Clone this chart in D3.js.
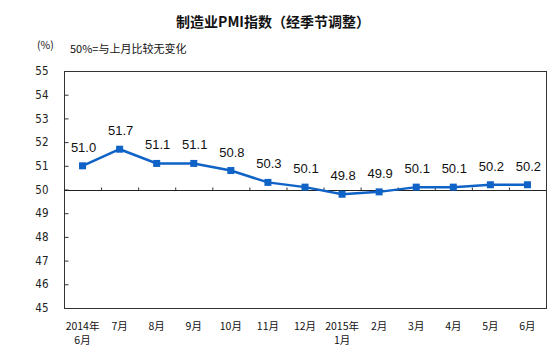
<!DOCTYPE html>
<html>
<head>
<meta charset="utf-8">
<script src="https://cdn.jsdelivr.net/npm/d3@7"></script>
<style>
  body { margin: 0; background: #fff; }
  svg { display: block; }
</style>
</head>
<body>
<svg width="553" height="364"></svg>
<script>
// months, two-line labels split on "|"
var months = ["2014年|6月", "7月", "8月", "9月", "10月", "11月", "12月",
              "2015年|1月", "2月", "3月", "4月", "5月", "6月"];
var pmi = [51.0, 51.7, 51.1, 51.1, 50.8, 50.3, 50.1, 49.8, 49.9, 50.1, 50.1, 50.2, 50.2];
var yTicks = [45, 46, 47, 48, 49, 50, 51, 52, 53, 54, 55];

var blue = "#0f62c6";
var plotLeft = 64, plotRight = 546, plotTop = 71, plotBottom = 308;

var svg = d3.select("svg");

var x = d3.scaleBand().domain(months).range([plotLeft, plotRight]);
var xb = d3.scaleLinear().domain([0, months.length]).range([plotLeft, plotRight]);
var y = d3.scaleLinear().domain([45, 55]).range([plotBottom, plotTop]);

// title and notes
svg.append("text")
  .attr("x", 273).attr("y", 27)
  .attr("text-anchor", "middle")
  .attr("font-family", "Noto Sans CJK SC")
  .attr("font-weight", "bold")
  .attr("font-size", 14)
  .attr("fill", "#111")
  .text("制造业PMI指数（经季节调整）");

svg.append("text")
  .attr("x", 37).attr("y", 49)
  .attr("font-family", "Noto Sans CJK SC")
  .attr("font-size", 10.5)
  .attr("fill", "#111")
  .text("(%)");

svg.append("text")
  .attr("x", 70).attr("y", 53)
  .attr("font-family", "Noto Sans CJK SC")
  .attr("font-size", 11)
  .attr("fill", "#111")
  .text("50%=与上月比较无变化");

// frame
svg.append("rect")
  .attr("x", plotLeft + 0.5).attr("y", plotTop + 0.5)
  .attr("width", plotRight - plotLeft).attr("height", plotBottom - plotTop)
  .attr("fill", "none").attr("stroke", "#333").attr("stroke-width", 1);

// y axis, inward ticks
var yAxis = svg.append("g")
  .attr("transform", "translate(" + (plotLeft + 0.5) + ",0)")
  .call(d3.axisLeft(y).tickValues(yTicks).tickSize(-4).tickPadding(16).tickFormat(d3.format("d")));
yAxis.select(".domain").remove();
yAxis.selectAll("line").attr("stroke", "#333");
yAxis.selectAll("text")
  .attr("font-family", "Liberation Sans Narrow, DejaVu Sans Condensed, sans-serif")
  .attr("font-size", 11.5)
  .attr("fill", "#222");

// 50 line with category ticks
var y50 = Math.round(y(50)) + 0.5;
svg.append("line")
  .attr("x1", plotLeft).attr("x2", plotRight)
  .attr("y1", y50).attr("y2", y50)
  .attr("stroke", "#222").attr("stroke-width", 1);

var xTicks = svg.append("g")
  .attr("transform", "translate(0," + y50 + ")")
  .call(d3.axisTop(xb).tickValues(d3.range(1, months.length)).tickSize(3).tickFormat(""));
xTicks.select(".domain").remove();
xTicks.selectAll("line").attr("stroke", "#333");

// x labels
var xl = svg.append("g").selectAll("text")
  .data(months).enter().append("text")
  .attr("x", function(d) { return x(d) + x.bandwidth() / 2; })
  .attr("y", 330)
  .attr("text-anchor", "middle")
  .attr("font-family", "Noto Sans CJK SC")
  .attr("font-size", 10.5)
  .attr("fill", "#111");
xl.each(function(d) {
  var parts = d.split("|");
  var t = d3.select(this);
  parts.forEach(function(p, i) {
    t.append("tspan")
      .attr("x", t.attr("x"))
      .attr("dy", i == 0 ? 0 : 14)
      .text(p);
  });
});

// line
var line = d3.line()
  .x(function(d, i) { return x(months[i]) + x.bandwidth() / 2; })
  .y(function(d) { return y(d); });

svg.append("path")
  .datum(pmi)
  .attr("d", line)
  .attr("fill", "none")
  .attr("stroke", blue)
  .attr("stroke-width", 2.5);

svg.append("g").selectAll("rect")
  .data(pmi).enter().append("rect")
  .attr("x", function(d, i) { return x(months[i]) + x.bandwidth() / 2 - 3.5; })
  .attr("y", function(d) { return y(d) - 3.5; })
  .attr("width", 7).attr("height", 7)
  .attr("fill", blue);

// value labels
svg.append("g").selectAll("text")
  .data(pmi).enter().append("text")
  .attr("x", function(d, i) { return x(months[i]) + x.bandwidth() / 2 + 1; })
  .attr("y", function(d) { return y(d) - 14; })
  .attr("text-anchor", "middle")
  .attr("font-family", "Liberation Sans, Arial, sans-serif")
  .attr("font-size", 13)
  .attr("fill", "#111")
  .text(function(d) { return d3.format(".1f")(d); });
</script>
</body>
</html>
